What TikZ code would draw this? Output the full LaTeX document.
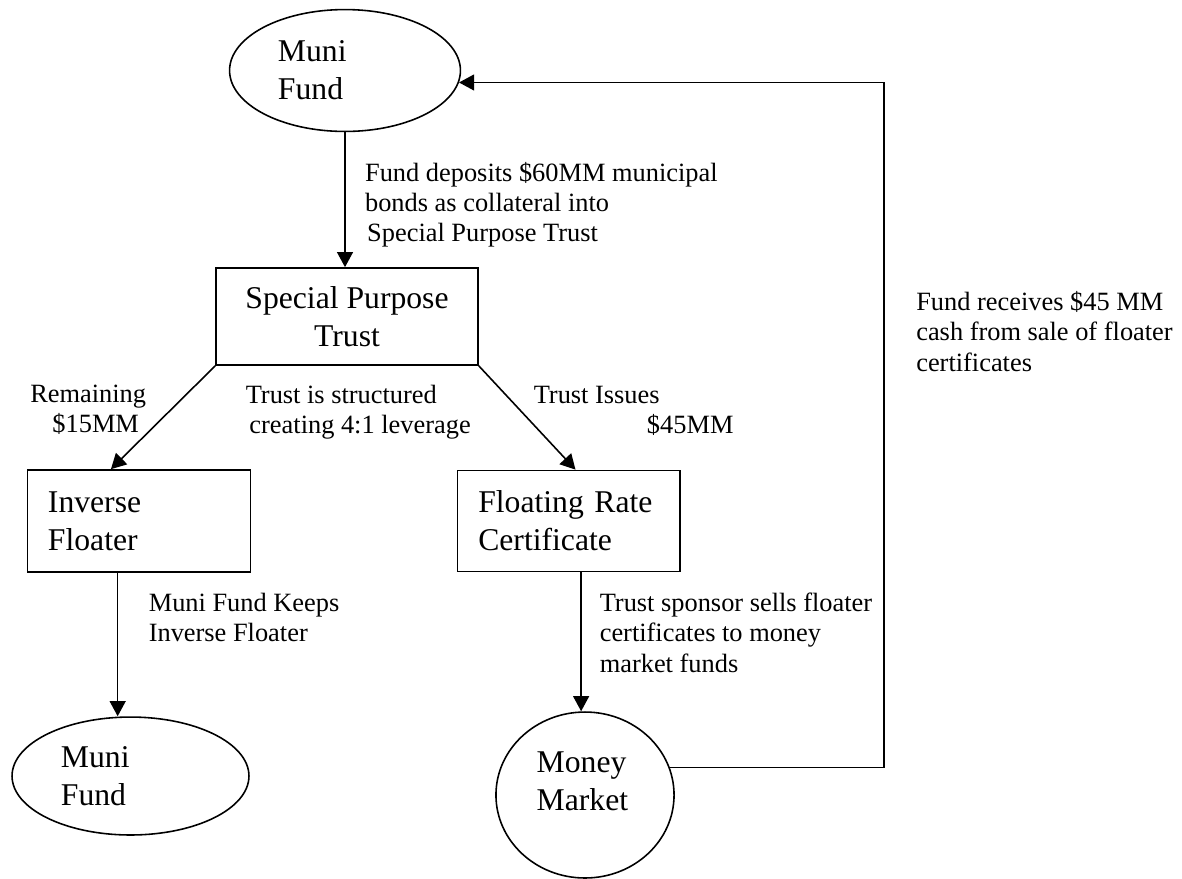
\documentclass[tikz,border=0pt]{standalone}
\usepackage{fontspec}
\setmainfont{Liberation Serif}
\usepackage{tikz}
\usetikzlibrary{calc}
\usetikzlibrary{positioning}
\usetikzlibrary{shapes.geometric}
\usetikzlibrary{arrows.meta}
\newcommand{\boxtext}{\fontsize{12pt}{14.4pt}\selectfont}
\newcommand{\notetext}{\fontsize{10pt}{11.4pt}\selectfont}
\tikzstyle{fundnode} = [draw, ellipse, align=left, font=\boxtext]
\tikzstyle{trustnode} = [draw, rectangle, align=left, font=\boxtext]
\tikzstyle{remark} = [anchor=north west, inner sep=0pt, align=left, font=\notetext]

\begin{document}
\begin{tikzpicture}[x=0.379pt, y=-0.379pt, line width=0.6pt, >={Triangle[length=5.7pt, width=6pt]}]
  \useasboundingbox (0,0) rectangle (1182,878);
  \node[fundnode, minimum width=87.5pt, minimum height=46.2pt, text width=50.8pt] (fund) at (345,70.5) {Muni\\Fund};
  \node[trustnode, minimum width=99.3pt, minimum height=36.8pt, align=center] (spt) at (347,316.5) {Special Purpose\\Trust};
  \node[trustnode, minimum width=84.5pt, minimum height=38.7pt, text width=69pt] (inv) at (139,521) {Inverse\\Floater};
  \node[trustnode, minimum width=84.3pt, minimum height=38.3pt, text width=68.6pt] (frc) at (568.8,521) {Floating Rate\\Certificate};
  \node[fundnode, minimum width=89.8pt, minimum height=44.7pt, text width=52.7pt] (fund2) at (130.5,776) {Muni\\Fund};
  \node[fundnode, minimum width=67.5pt, minimum height=62.9pt, text width=36.6pt] (mm) at (585,795) {Money\\Market\rule[-10.6pt]{0pt}{10.6pt}};

  \node[remark] (depo) at (364.3,161.5) {Fund deposits \$60MM municipal\\bonds as collateral into\\\hspace{0.8pt}Special Purpose Trust};
  \node[remark] (rem) at (29.5,384.5) {Remaining\\\hspace{8.4pt}\$15MM};
  \node[remark] (lev) at (245,384.5) {Trust is structured\\\hspace{1.4pt}creating 4:1 leverage};
  \node[remark] (iss) at (533,385) {Trust Issues\\\hspace{42.9pt}\$45MM};
  \node[remark] (keep) at (148,592.5) {Muni Fund Keeps\\Inverse Floater};
  \node[remark] (sell) at (599,592.5) {Trust sponsor sells floater\\certificates to money\\market funds};
  \node[remark] (recv) at (915.5,291) {Fund receives \$45 MM\\cash from sale of floater\\certificates};

  \coordinate (invout) at ($(inv.south west)!0.405!(inv.south east)$);
  \coordinate (frcout) at ($(frc.south west)!0.555!(frc.south east)$);
  \coordinate (turn) at (884,83.3);

  \draw[->] (fund.south) -- (fund.south |- spt.north);
  \draw[->] (spt.south west) -- ($(inv.north west)!0.375!(inv.north east)$);
  \draw[->] (spt.south east) -- ($(frc.north west)!0.53!(frc.north east)$);
  \draw[->] (invout) -- (invout |- fund2.north);
  \draw[->] (frcout) -- (frcout |- mm.north);
  \draw[->] (mm.18) -| (turn) |- (fund.-6.5);
\end{tikzpicture}
\end{document}
